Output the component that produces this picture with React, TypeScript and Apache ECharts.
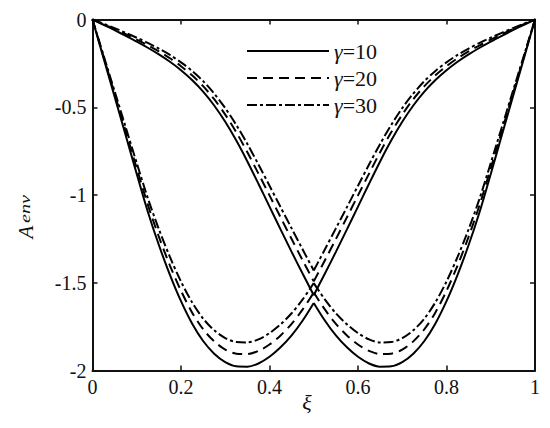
import React, { useEffect, useRef } from "react";
import * as echarts from "echarts";

const FONT = "Liberation Serif";

const xiLeft = [0, 0.025, 0.05, 0.075, 0.1, 0.125, 0.15, 0.175, 0.2, 0.225, 0.25, 0.275, 0.3, 0.325, 0.35, 0.375, 0.4, 0.425, 0.45, 0.475, 0.5];
const xiRight = [0.5, 0.525, 0.55, 0.575, 0.6, 0.625, 0.65, 0.675, 0.7, 0.725, 0.75, 0.775, 0.8, 0.825, 0.85, 0.875, 0.9, 0.925, 0.95, 0.975, 1];

// upper (slowly varying) branches
const upper10L = [0, -0.03, -0.061, -0.093, -0.126, -0.161, -0.199, -0.241, -0.289, -0.345, -0.411, -0.49, -0.583, -0.69, -0.809, -0.936, -1.066, -1.196, -1.324, -1.449, -1.571];
const upper10R = [-1.571, -1.449, -1.324, -1.196, -1.066, -0.936, -0.809, -0.69, -0.583, -0.49, -0.411, -0.345, -0.289, -0.241, -0.199, -0.161, -0.126, -0.093, -0.061, -0.03, 0];
const upper20L = [0, -0.027, -0.055, -0.084, -0.115, -0.147, -0.182, -0.221, -0.266, -0.318, -0.38, -0.454, -0.542, -0.643, -0.756, -0.878, -1.002, -1.127, -1.251, -1.373, -1.492];
const upper20R = [-1.492, -1.373, -1.251, -1.127, -1.002, -0.878, -0.756, -0.643, -0.542, -0.454, -0.38, -0.318, -0.266, -0.221, -0.182, -0.147, -0.115, -0.084, -0.055, -0.027, 0];
const upper30L = [0, -0.024, -0.049, -0.076, -0.104, -0.133, -0.166, -0.202, -0.244, -0.293, -0.351, -0.422, -0.505, -0.601, -0.709, -0.826, -0.947, -1.069, -1.19, -1.311, -1.43];
const upper30R = [-1.43, -1.311, -1.19, -1.069, -0.947, -0.826, -0.709, -0.601, -0.505, -0.422, -0.351, -0.293, -0.244, -0.202, -0.166, -0.133, -0.104, -0.076, -0.049, -0.024, 0];

// lower (steep) branches
const lower10L = [0, -0.22, -0.44, -0.66, -0.88, -1.095, -1.285, -1.455, -1.605, -1.732, -1.832, -1.904, -1.952, -1.976, -1.978, -1.96, -1.922, -1.868, -1.8, -1.715, -1.615];
const lower10R = [-1.615, -1.715, -1.8, -1.868, -1.922, -1.96, -1.978, -1.976, -1.952, -1.904, -1.832, -1.732, -1.605, -1.455, -1.285, -1.095, -0.88, -0.66, -0.44, -0.22, 0];
const lower20L = [0, -0.212, -0.424, -0.636, -0.848, -1.055, -1.238, -1.402, -1.546, -1.669, -1.765, -1.834, -1.881, -1.904, -1.906, -1.888, -1.852, -1.8, -1.734, -1.652, -1.556];
const lower20R = [-1.556, -1.652, -1.734, -1.8, -1.852, -1.888, -1.906, -1.904, -1.881, -1.834, -1.765, -1.669, -1.546, -1.402, -1.238, -1.055, -0.848, -0.636, -0.424, -0.212, 0];
const lower30L = [0, -0.205, -0.409, -0.614, -0.818, -1.018, -1.195, -1.353, -1.493, -1.611, -1.704, -1.771, -1.815, -1.838, -1.84, -1.823, -1.787, -1.737, -1.674, -1.595, -1.502];
const lower30R = [-1.502, -1.595, -1.674, -1.737, -1.787, -1.823, -1.84, -1.838, -1.815, -1.771, -1.704, -1.611, -1.493, -1.353, -1.195, -1.018, -0.818, -0.614, -0.409, -0.205, 0];

const seriesNames = ["γ=10", "γ=20", "γ=30"];
const xTicks = [0, 0.2, 0.4, 0.6, 0.8, 1];
const yTicks = [-2, -1.5, -1, -0.5, 0];

const dashTypes: any[] = ["solid", [10, 6], [10, 3, 3, 3]];
const branches = [
  [upper10L, upper10R, lower10L, lower10R],
  [upper20L, upper20R, lower20L, lower20R],
  [upper30L, upper30R, lower30L, lower30R],
];

export default function App() {
  const ref = useRef<HTMLDivElement>(null);
  useEffect(() => {
    if (!ref.current) return;
    const chart = echarts.init(ref.current, undefined, { renderer: "svg" });
    const series: any[] = [];
    branches.forEach((set, gi) => {
      set.forEach((vals, bi) => {
        const xs = bi % 2 === 0 ? xiLeft : xiRight;
        series.push({
          type: "line",
          name: seriesNames[gi],
          data: xs.map((x, i) => [x, vals[i]]),
          smooth: 0.3,
          symbol: "none",
          showSymbol: false,
          lineStyle: { color: "#000", width: 2, type: dashTypes[gi] },
          itemStyle: { color: "#000" },
          z: 3 - gi,
        });
      });
    });
    const axisLine = { show: true, onZero: false, lineStyle: { color: "#111", width: 2 } };
    const axisTick = { show: true, inside: true, length: 5, lineStyle: { color: "#111", width: 1.5 } };
    const label = { fontFamily: FONT, fontSize: 20, color: "#111" };
    chart.setOption({
      animation: false,
      backgroundColor: "#fff",
      textStyle: { fontFamily: FONT },
      grid: { left: 92.5, right: 15, top: 19.5, bottom: 57.5, containLabel: false },
      xAxis: [
        {
          type: "value", min: xTicks[0], max: xTicks[xTicks.length - 1], interval: 0.2,
          axisLine, axisTick, splitLine: { show: false },
          axisLabel: { ...label, margin: 6 },
        },
        {
          type: "value", position: "top", min: xTicks[0], max: xTicks[xTicks.length - 1], interval: 0.2,
          axisLine, axisTick, splitLine: { show: false }, axisLabel: { show: false },
        },
      ],
      yAxis: [
        {
          type: "value", min: yTicks[0], max: yTicks[yTicks.length - 1], interval: 0.5,
          axisLine, axisTick, splitLine: { show: false },
          axisLabel: { ...label, margin: 6 },
        },
        {
          type: "value", position: "right", min: yTicks[0], max: yTicks[yTicks.length - 1], interval: 0.5,
          axisLine, axisTick, splitLine: { show: false }, axisLabel: { show: false },
        },
      ],
      legend: {
        data: seriesNames,
        orient: "vertical",
        left: 241,
        top: 35,
        itemWidth: 82,
        itemHeight: 14,
        itemGap: 5,
        selectedMode: false,
        itemStyle: { opacity: 0 },
        formatter: (n: string) => `{g|γ}{t|${n.slice(1)}}`,
        textStyle: {
          fontFamily: FONT, fontSize: 22, color: "#111", lineHeight: 22,
          rich: {
            g: { fontFamily: FONT, fontSize: 22, fontStyle: "italic", color: "#111", lineHeight: 22 },
            t: { fontFamily: FONT, fontSize: 22, color: "#111", lineHeight: 22 },
          },
        },
      },
      graphic: [
        {
          type: "text", x: 26, y: 232, rotation: Math.PI / 2,
          style: { text: "A", fontFamily: FONT, fontSize: 21, fontStyle: "italic", fill: "#111", align: "center", verticalAlign: "middle" },
        },
        {
          type: "text", x: 25, y: 209, rotation: Math.PI / 2, scaleX: 1.35,
          style: { text: "env", fontFamily: FONT, fontSize: 15, fontStyle: "italic", fill: "#111", align: "center", verticalAlign: "middle" },
        },
        {
          type: "text", x: 307, y: 402,
          style: { text: "ξ", fontFamily: FONT, fontSize: 22, fontStyle: "italic", fill: "#111", align: "center", verticalAlign: "middle" },
        },
      ],
      series,
    });
    return () => chart.dispose();
  }, []);
  return <div ref={ref} style={{ position: "fixed", left: 0, top: 0, width: 550, height: 428, background: "#fff" }} />;
}
